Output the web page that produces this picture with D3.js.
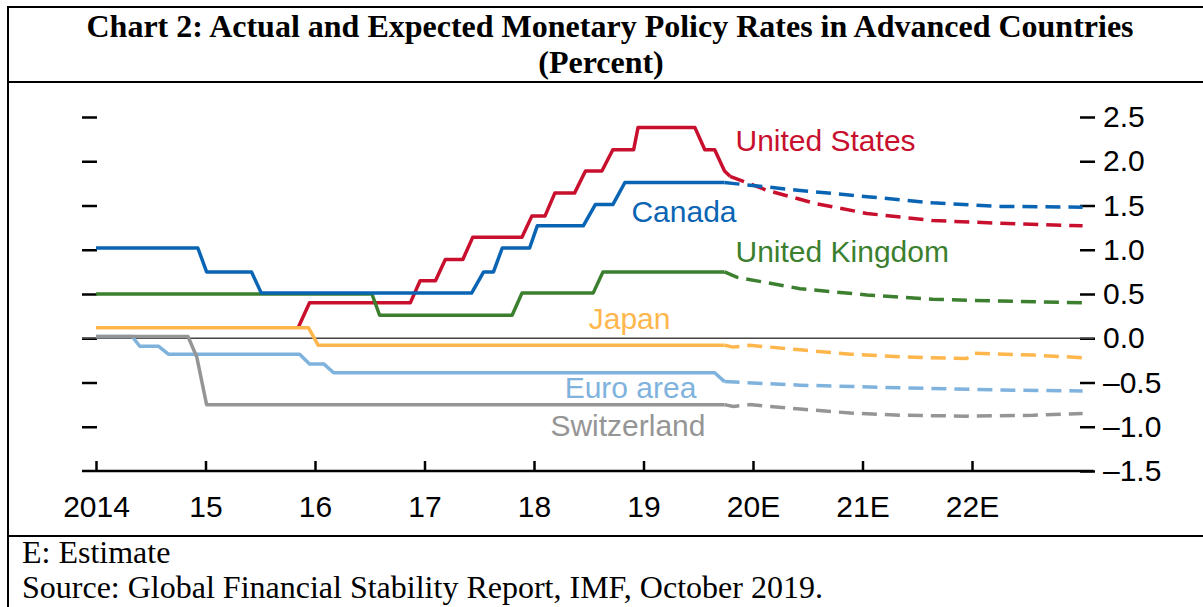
<!DOCTYPE html>
<html lang="en">
<head>
<meta charset="UTF-8">
<title>Monetary Policy Rates</title>
<script src="https://d3js.org/d3.v7.min.js"></script>
<style>
  body { margin: 0; background: #fff; }
</style>
</head>
<body>
<svg id="chart" width="1203" height="607"></svg>
<script>
// x ticks (years) and their labels
const yearTicks = [2014, 2015, 2016, 2017, 2018, 2019, 2020, 2021, 2022];
const yearLabels = ["2014", "15", "16", "17", "18", "19", "20E", "21E", "22E"];
const rateTicks = [-1.5, -1.0, -0.5, 0, 0.5, 1.0, 1.5, 2.0, 2.5];
const rateLabels = ["\u20131.5", "\u20131.0", "\u20130.5", "0.0", "0.5", "1.0", "1.5", "2.0", "2.5"];

// actual rates: [year, percent]
const usActual = [[2015.85, 0.13], [2015.95, 0.4], [2016.87, 0.4], [2016.96, 0.65], [2017.10, 0.65],
  [2017.19, 0.89], [2017.35, 0.89], [2017.44, 1.14], [2017.89, 1.14], [2017.98, 1.38], [2018.10, 1.38],
  [2018.19, 1.64], [2018.37, 1.64], [2018.47, 1.89], [2018.62, 1.89], [2018.72, 2.13], [2018.91, 2.13],
  [2018.95, 2.38], [2019.47, 2.38], [2019.56, 2.13], [2019.65, 2.13], [2019.74, 1.89], [2019.79, 1.83]];
const usEst = [[2019.79, 1.83], [2020.13, 1.67], [2020.58, 1.52], [2021.04, 1.41], [2021.64, 1.33],
  [2022.26, 1.30], [2023.01, 1.27]];

const canadaActual = [[2014.0, 1.02], [2014.93, 1.02], [2015.01, 0.75], [2015.42, 0.75], [2015.51, 0.51],
  [2017.43, 0.51], [2017.54, 0.75], [2017.63, 0.75], [2017.71, 1.02], [2017.96, 1.02], [2018.03, 1.27],
  [2018.45, 1.27], [2018.56, 1.51], [2018.72, 1.51], [2018.83, 1.76], [2019.74, 1.76]];
const canadaEst = [[2019.74, 1.76], [2019.81, 1.75], [2020.43, 1.67], [2021.04, 1.60], [2021.64, 1.53],
  [2022.26, 1.49], [2023.01, 1.48]];

const ukActual = [[2014.0, 0.5], [2016.52, 0.5], [2016.59, 0.26], [2017.80, 0.26], [2017.89, 0.51],
  [2018.54, 0.51], [2018.63, 0.75], [2019.74, 0.75]];
const ukEst = [[2019.74, 0.75], [2019.85, 0.69], [2020.43, 0.56], [2021.04, 0.49], [2021.64, 0.44],
  [2022.26, 0.42], [2023.01, 0.40]];

const japanActual = [[2014.0, 0.12], [2015.94, 0.12], [2016.03, -0.08], [2019.74, -0.08]];
const japanEst = [[2019.74, -0.08], [2019.82, -0.10], [2019.97, -0.08], [2020.43, -0.13], [2020.89, -0.18],
  [2021.34, -0.21], [2021.95, -0.23], [2022.01, -0.17], [2022.56, -0.19], [2023.01, -0.22]];

const euroActual = [[2014.0, 0.02], [2014.33, 0.02], [2014.40, -0.09], [2014.57, -0.09], [2014.66, -0.18],
  [2015.86, -0.18], [2015.95, -0.29], [2016.08, -0.29], [2016.17, -0.39], [2019.65, -0.39], [2019.74, -0.49]];
const euroEst = [[2019.74, -0.49], [2020.43, -0.53], [2021.34, -0.56], [2022.26, -0.585], [2023.01, -0.595]];

const swissActual = [[2014.0, 0.02], [2014.84, 0.02], [2014.92, -0.21], [2015.01, -0.75], [2019.74, -0.75]];
const swissEst = [[2019.74, -0.75], [2019.82, -0.77], [2019.97, -0.75], [2020.43, -0.80], [2020.89, -0.845],
  [2021.34, -0.87], [2021.95, -0.88], [2022.56, -0.87], [2023.01, -0.85]];

const series = [
  { name: "United States", color: "#c8102e", actual: usActual, est: usEst, label: [2019.84, 2.12] },
  { name: "United Kingdom", color: "#3b7f2f", actual: ukActual, est: ukEst, label: [2019.84, 0.865] },
  { name: "Canada", color: "#0a64b4", actual: canadaActual, est: canadaEst, label: [2018.89, 1.31] },
  { name: "Euro area", color: "#7fb3de", actual: euroActual, est: euroEst, label: [2018.28, -0.68] },
  { name: "Switzerland", color: "#959595", actual: swissActual, est: swissEst, label: [2018.15, -1.11] },
  { name: "Japan", color: "#ffb74d", actual: japanActual, est: japanEst, label: [2018.50, 0.10] }
];

const svg = d3.select("#chart");

const x = d3.scaleLinear().domain([2014, 2023]).range([96, 1081.5]);
const y = d3.scaleLinear().domain([-1.5, 2.5]).range([471, 117]);

// frame
svg.append("rect")
  .attr("x", 8).attr("y", 7).attr("width", 1210).attr("height", 640)
  .attr("fill", "none").attr("stroke", "#000").attr("stroke-width", 2);
svg.append("line").attr("x1", 8).attr("x2", 1203).attr("y1", 82).attr("y2", 82)
  .attr("stroke", "#000").attr("stroke-width", 2);
svg.append("line").attr("x1", 8).attr("x2", 1203).attr("y1", 536).attr("y2", 536)
  .attr("stroke", "#000").attr("stroke-width", 2);

// title
svg.append("text")
  .attr("x", 610).attr("y", 37)
  .attr("text-anchor", "middle")
  .style("font-family", "'Liberation Serif', 'Times New Roman', serif")
  .style("font-weight", "bold")
  .style("font-size", "32px")
  .text("Chart 2: Actual and Expected Monetary Policy Rates in Advanced Countries");
svg.append("text")
  .attr("x", 601).attr("y", 73)
  .attr("text-anchor", "middle")
  .style("font-family", "'Liberation Serif', 'Times New Roman', serif")
  .style("font-weight", "bold")
  .style("font-size", "32px")
  .text("(Percent)");

// footnotes
svg.append("text").attr("x", 22).attr("y", 563)
  .style("font-family", "'Liberation Serif', 'Times New Roman', serif")
  .style("font-size", "32px")
  .text("E: Estimate");
svg.append("text").attr("x", 22).attr("y", 598)
  .style("font-family", "'Liberation Serif', 'Times New Roman', serif")
  .style("font-size", "32px")
  .text("Source: Global Financial Stability Report, IMF, October 2019.");

const chartFont = "'Liberation Sans', Arial, sans-serif";

// x axis
const xAxis = svg.append("g")
  .attr("transform", `translate(0,${y(-1.5)})`)
  .call(d3.axisBottom(x).tickValues(yearTicks)
    .tickFormat((d, i) => yearLabels[i])
    .tickSizeInner(-10).tickSizeOuter(0).tickPadding(25));
xAxis.select(".domain").remove();
xAxis.selectAll(".tick line").attr("stroke", "#000").attr("stroke-width", 2.5);
xAxis.selectAll("text")
  .style("font-family", chartFont).style("font-size", "30px").attr("fill", "#000");
svg.append("line")
  .attr("x1", x(2014) - 14).attr("x2", x(2023) + 12)
  .attr("y1", y(-1.5)).attr("y2", y(-1.5))
  .attr("stroke", "#000").attr("stroke-width", 2.5);

// left ticks, no labels
const leftAxis = svg.append("g")
  .attr("transform", `translate(${x(2014) + 1},0)`)
  .call(d3.axisLeft(y).tickValues(rateTicks.slice(1)).tickFormat("").tickSize(15).tickSizeOuter(0));
leftAxis.select(".domain").remove();
leftAxis.selectAll(".tick line").attr("stroke", "#000").attr("stroke-width", 2.5);

// right axis with labels
const rightAxis = svg.append("g")
  .attr("transform", `translate(${x(2023) - 1.5},0)`)
  .call(d3.axisRight(y).tickValues(rateTicks)
    .tickFormat((d, i) => rateLabels[i]).tickSize(15).tickSizeOuter(0).tickPadding(8));
rightAxis.select(".domain").remove();
rightAxis.selectAll(".tick line").attr("stroke", "#000").attr("stroke-width", 2.5);
rightAxis.selectAll("text")
  .style("font-family", chartFont).style("font-size", "30px").attr("fill", "#000");

// zero line
svg.append("line")
  .attr("x1", x(2014) - 14).attr("x2", x(2023) + 12)
  .attr("y1", y(0)).attr("y2", y(0))
  .attr("stroke", "#444").attr("stroke-width", 1.5);

const line = d3.line().x(d => x(d[0])).y(d => y(d[1]));

series.forEach(s => {
  svg.append("path")
    .datum(s.est)
    .attr("fill", "none")
    .attr("stroke", s.color)
    .attr("stroke-width", 3.5)
    .attr("stroke-dasharray", "15,8")
    .attr("d", line);
  svg.append("path")
    .datum(s.actual)
    .attr("fill", "none")
    .attr("stroke", s.color)
    .attr("stroke-width", 3.5)
    .attr("stroke-linejoin", "round")
    .attr("d", line);
  svg.append("text")
    .attr("x", x(s.label[0]))
    .attr("y", y(s.label[1]))
    .attr("fill", s.color)
    .style("font-family", chartFont)
    .style("font-size", "30px")
    .text(s.name);
});
</script>
</body>
</html>
